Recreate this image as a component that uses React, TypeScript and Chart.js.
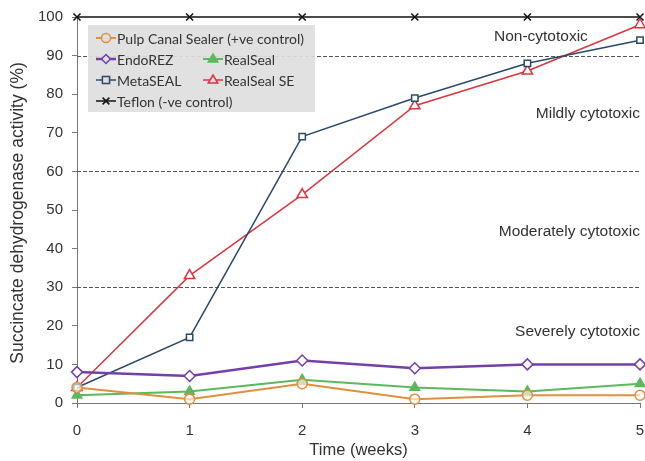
import React, { useEffect, useRef } from "react";
import { Chart, registerables } from "chart.js";

Chart.register(...registerables);

const weeks = [0, 1, 2, 3, 4, 5];
const pulpCanal = [4, 1, 5, 1, 2, 2];
const endoREZ = [8, 7, 11, 9, 10, 10];
const realSeal = [2, 3, 6, 4, 3, 5];
const metaSEAL = [4, 17, 69, 79, 88, 94];
const realSealSE = [4, 33, 54, 77, 86, 98];
const teflon = [100, 100, 100, 100, 100, 100];
const yTicks = [0, 10, 20, 30, 40, 50, 60, 70, 80, 90, 100];
const thresholdLines = [30, 60, 90];
const xTitle = "Time (weeks)";
const yTitle = "Succincate dehydrogenase activity (%)";
const zoneLabels = [
  { text: "Non-cytotoxic", x: 4.12, y: 95, align: "center" },
  { text: "Mildly cytotoxic", x: 5, y: 75, align: "right" },
  { text: "Moderately cytotoxic", x: 5, y: 44.5, align: "right" },
  { text: "Severely cytotoxic", x: 5, y: 18.5, align: "right" },
];

const FONT = "'Liberation Sans', Arial, sans-serif";

const toPts = (vals: number[]) => weeks.map((w, i) => ({ x: w, y: vals[i] }));

const seriesDefs = [
  { label: "Pulp Canal Sealer (+ve control)", data: pulpCanal, color: "#E0903C", style: "circle", fill: "rgba(255,255,255,0.6)", lw: 2, r: 5 },
  { label: "EndoREZ", data: endoREZ, color: "#7440A8", style: "rectRot", fill: "#ffffff", lw: 2.5, r: 5.5 },
  { label: "RealSeal", data: realSeal, color: "#5CB85C", style: "triangle", fill: "#5CB85C", lw: 2, r: 5.5 },
  { label: "MetaSEAL", data: metaSEAL, color: "#2B4A6B", style: "rect", fill: "#ffffff", lw: 1.5, r: 4.5 },
  { label: "RealSeal SE", data: realSealSE, color: "#D9363E", style: "triangle", fill: "#ffffff", lw: 1.5, r: 6 },
  { label: "Teflon (-ve control)", data: teflon, color: "#111111", style: "crossRot", fill: "#111111", lw: 1.5, r: 5 },
];

const legendLayout = [
  { idx: 0, col: 0, row: 0 },
  { idx: 1, col: 0, row: 1 },
  { idx: 2, col: 1, row: 1 },
  { idx: 3, col: 0, row: 2 },
  { idx: 4, col: 1, row: 2 },
  { idx: 5, col: 0, row: 3 },
];

function drawMarker(ctx: CanvasRenderingContext2D, style: string, x: number, y: number, r: number) {
  ctx.beginPath();
  if (style === "circle") {
    ctx.arc(x, y, r, 0, Math.PI * 2);
    ctx.fill();
    ctx.stroke();
  } else if (style === "rect") {
    ctx.rect(x - r * 0.8, y - r * 0.8, r * 1.6, r * 1.6);
    ctx.fill();
    ctx.stroke();
  } else if (style === "rectRot") {
    ctx.moveTo(x, y - r);
    ctx.lineTo(x + r, y);
    ctx.lineTo(x, y + r);
    ctx.lineTo(x - r, y);
    ctx.closePath();
    ctx.fill();
    ctx.stroke();
  } else if (style === "triangle") {
    ctx.moveTo(x, y - r);
    ctx.lineTo(x + r * 0.95, y + r * 0.6);
    ctx.lineTo(x - r * 0.95, y + r * 0.6);
    ctx.closePath();
    ctx.fill();
    ctx.stroke();
  } else if (style === "crossRot") {
    const d = r * 0.75;
    ctx.moveTo(x - d, y - d);
    ctx.lineTo(x + d, y + d);
    ctx.moveTo(x + d, y - d);
    ctx.lineTo(x - d, y + d);
    ctx.stroke();
  }
}

const overlayPlugin = {
  id: "overlay",
  beforeDatasetsDraw(chart: any) {
    const { ctx, chartArea, scales } = chart;
    ctx.save();
    ctx.strokeStyle = "#555555";
    ctx.lineWidth = 1;
    ctx.setLineDash([4, 2]);
    thresholdLines.forEach((v) => {
      const y = Math.round(scales.y.getPixelForValue(v)) + 0.5;
      ctx.beginPath();
      ctx.moveTo(chartArea.left, y);
      ctx.lineTo(chartArea.right, y);
      ctx.stroke();
    });
    ctx.setLineDash([]);
    ctx.fillStyle = "#333333";
    ctx.font = "15.5px " + FONT;
    ctx.textBaseline = "middle";
    zoneLabels.forEach((z) => {
      ctx.textAlign = z.align as CanvasTextAlign;
      ctx.fillText(z.text, scales.x.getPixelForValue(z.x), scales.y.getPixelForValue(z.y));
    });
    // axis titles
    ctx.textAlign = "center";
    ctx.font = "16.5px " + FONT;
    ctx.fillText(xTitle, (chartArea.left + chartArea.right) / 2, 450);
    ctx.save();
    ctx.translate(18, (chartArea.top + chartArea.bottom) / 2 + 3);
    ctx.rotate(-Math.PI / 2);
    ctx.font = "17.5px " + FONT;
    ctx.fillText(yTitle, 0, 0);
    ctx.restore();
    ctx.restore();
  },
  afterDatasetsDraw(chart: any) {
    const { ctx, chartArea } = chart;
    ctx.save();
    const bx = chartArea.left + 11;
    const by = chartArea.top + 8;
    const bw = 227;
    const bh = 87;
    ctx.fillStyle = "rgba(222,222,222,0.92)";
    ctx.fillRect(bx, by, bw, bh);
    ctx.font = "14px Lato, 'Open Sans', sans-serif";
    ctx.textBaseline = "middle";
    ctx.textAlign = "left";
    legendLayout.forEach((l) => {
      const s = seriesDefs[l.idx];
      const x0 = bx + 8 + l.col * 107;
      const y = by + 13 + l.row * 21;
      ctx.strokeStyle = s.color;
      ctx.lineWidth = s.lw;
      ctx.beginPath();
      ctx.moveTo(x0, y);
      ctx.lineTo(x0 + 20, y);
      ctx.stroke();
      ctx.fillStyle = s.fill === "#ffffff" || s.fill.startsWith("rgba") ? "rgb(222,222,222)" : s.fill;
      ctx.strokeStyle = s.color;
      ctx.lineWidth = 1.5;
      drawMarker(ctx, s.style, x0 + 10, y, s.style === "triangle" ? 5 : 4.5);
      ctx.fillStyle = "#333333";
      ctx.fillText(s.label, x0 + 21, y + 1);
    });
    ctx.restore();
  },
};

export default function App() {
  const ref = useRef<HTMLCanvasElement>(null);
  useEffect(() => {
    document.body.style.margin = "0";
    const chart = new Chart(ref.current!, {
      type: "line",
      data: {
        datasets: seriesDefs.map((s) => ({
          label: s.label,
          data: toPts(s.data),
          borderColor: s.color,
          backgroundColor: s.fill,
          borderWidth: s.lw,
          pointStyle: s.style as any,
          pointRadius: s.r,
          pointBorderWidth: 1.5,
          pointBackgroundColor: s.fill,
          pointBorderColor: s.color,
          tension: 0,
          clip: false as any,
        })),
      },
      options: {
        animation: false,
        responsive: false,
        maintainAspectRatio: false,
        layout: { autoPadding: false, padding: { top: 17, right: 5, left: 38, bottom: 24 } },
        plugins: { legend: { display: false }, tooltip: { enabled: false } },
        scales: {
          x: {
            type: "linear",
            min: 0,
            max: 5,
            ticks: { stepSize: 1, color: "#333", font: { size: 15, family: FONT }, padding: 14 },
            grid: { drawOnChartArea: false, drawTicks: true, tickLength: 5, tickColor: "#777" },
            border: { display: true, color: "#777", width: 1 },
            afterFit: (scale: any) => {
              scale.height = 34;
              scale.paddingLeft = 0;
              scale.paddingRight = 0;
            },
          },
          y: {
            min: 0,
            max: 100,
            afterBuildTicks: (axis: any) => {
              axis.ticks = yTicks.map((v) => ({ value: v }));
            },
            ticks: { color: "#333", font: { size: 15, family: FONT }, padding: 9 },
            grid: { drawOnChartArea: false, drawTicks: true, tickLength: 5, tickColor: "#777" },
            border: { display: true, color: "#777", width: 1 },
            afterFit: (scale: any) => {
              scale.width = 39;
              scale.paddingTop = 0;
              scale.paddingBottom = 0;
            },
          },
        },
      },
      plugins: [overlayPlugin],
    });
    return () => chart.destroy();
  }, []);
  return (
    <div style={{ width: 645, height: 461 }}>
      <canvas ref={ref} width={645} height={461} style={{ width: 645, height: 461, display: "block" }} />
    </div>
  );
}
